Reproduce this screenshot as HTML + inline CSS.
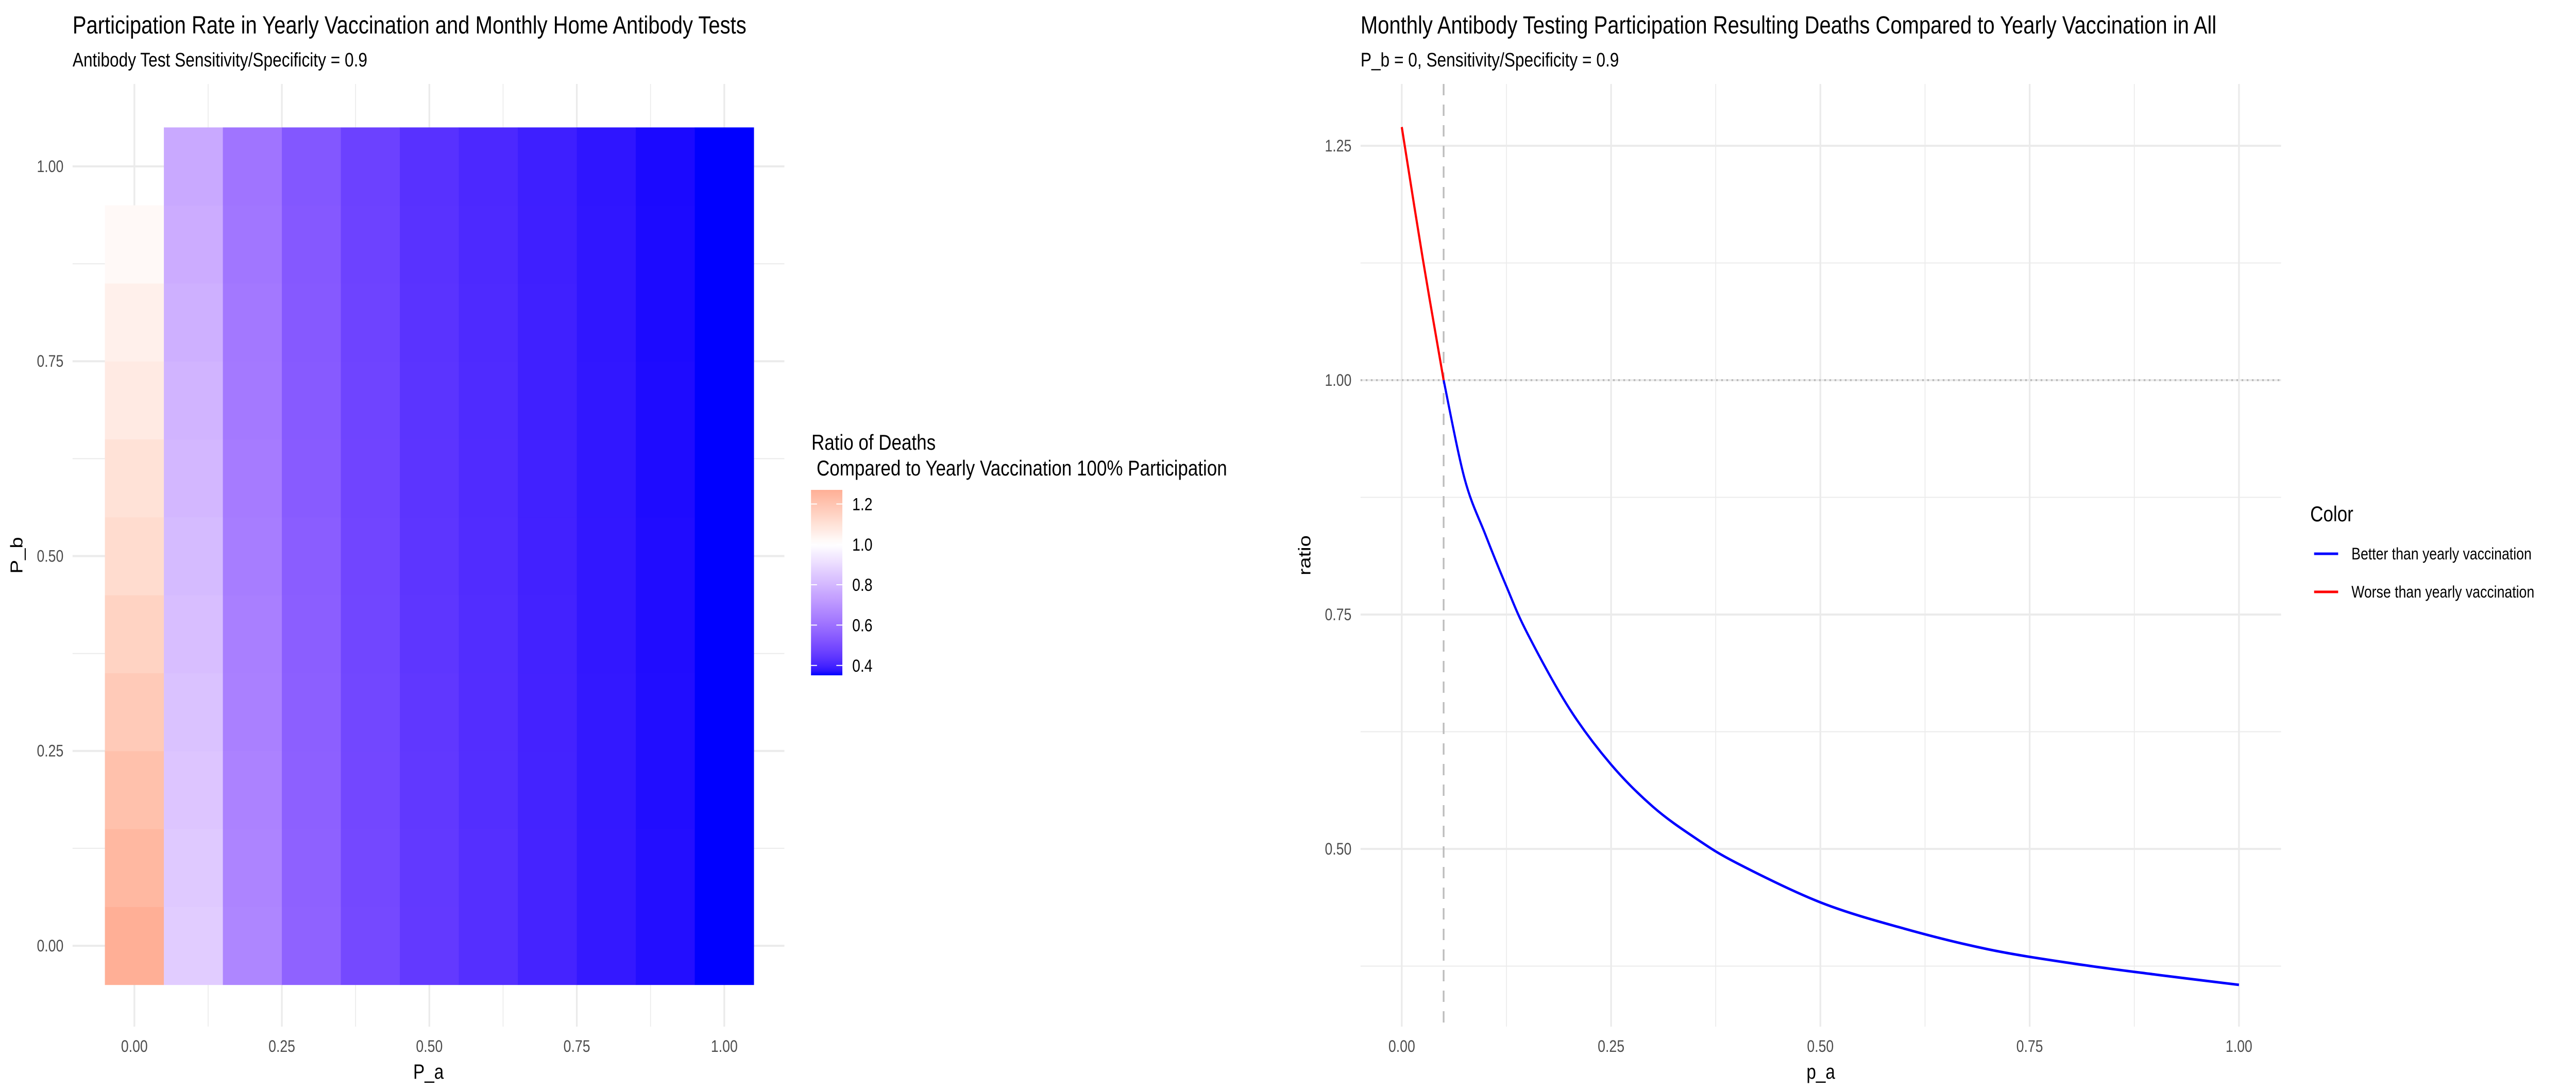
<!DOCTYPE html>
<html><head><meta charset="utf-8"><meta name="viewport" content="width=6000, initial-scale=1">
<style>
html,body{margin:0;padding:0;background:#fff;width:100%;height:100%;overflow:hidden}
svg{display:block;width:100vw;height:100vh;font-family:"Liberation Sans",Arial,sans-serif}
</style></head><body>
<svg id="chart" viewBox="0 0 6000 2116" preserveAspectRatio="none" xmlns="http://www.w3.org/2000/svg">
<rect width="6000" height="2116" fill="#fff"/>
<g id="left"></g>
<g id="right"></g>
</svg>
<script>
// ---- Heatmap data (rows = P_b levels, cols = P_a levels) ----
const paLevels = [0,0.1,0.2,0.3,0.4,0.5,0.6,0.7,0.8,0.9,1.0];
const pbLevels = [0,0.1,0.2,0.3,0.4,0.5,0.6,0.7,0.8,0.9,1.0];
const rowPb00 = [1.27,0.86,0.66,0.56,0.49,0.45,0.425,0.40,0.38,0.365,0.351];
const rowPb01 = [1.24,0.85,0.655,0.557,0.488,0.448,0.424,0.40,0.38,0.365,0.351];
const rowPb02 = [1.21,0.84,0.65,0.554,0.486,0.446,0.422,0.399,0.379,0.364,0.351];
const rowPb03 = [1.18,0.83,0.645,0.55,0.484,0.444,0.421,0.398,0.379,0.364,0.351];
const rowPb04 = [1.15,0.82,0.64,0.547,0.482,0.442,0.42,0.397,0.378,0.363,0.351];
const rowPb05 = [1.12,0.81,0.635,0.544,0.48,0.44,0.418,0.396,0.378,0.363,0.351];
const rowPb06 = [1.10,0.80,0.63,0.54,0.478,0.438,0.417,0.395,0.377,0.362,0.351];
const rowPb07 = [1.07,0.79,0.625,0.537,0.476,0.436,0.415,0.394,0.377,0.362,0.351];
const rowPb08 = [1.05,0.78,0.62,0.534,0.474,0.434,0.414,0.393,0.376,0.361,0.351];
const rowPb09 = [1.02,0.77,0.615,0.53,0.472,0.432,0.412,0.392,0.376,0.361,0.351];
const rowPb10 = [null,0.76,0.61,0.527,0.47,0.43,0.41,0.391,0.375,0.36,0.351];
const heatRows = [rowPb00,rowPb01,rowPb02,rowPb03,rowPb04,rowPb05,rowPb06,rowPb07,rowPb08,rowPb09,rowPb10];
const heatTickLabels = ["0.00","0.25","0.50","0.75","1.00"];
const heatTickVals = [0,0.25,0.5,0.75,1];
const legendTickVals = [0.4,0.6,0.8,1.0,1.2];
const legendTickLabels = ["0.4","0.6","0.8","1.0","1.2"];
const fillMin = 0.351, fillMax = 1.27, fillMid = 1.0;

// ---- Line chart data ----
const lineX = [0,0.025,0.05,0.075,0.1,0.125,0.15,0.2,0.25,0.3,0.35,0.4,0.5,0.6,0.7,0.8,0.9,1.0];
const lineY = [1.27,1.13,1.0,0.895,0.835,0.78,0.73,0.65,0.59,0.545,0.512,0.485,0.443,0.415,0.393,0.378,0.366,0.355];
const lineXTicks = [0,0.25,0.5,0.75,1];
const lineXTickLabels = ["0.00","0.25","0.50","0.75","1.00"];
const lineYTicks = [0.5,0.75,1.0,1.25];
const lineYTickLabels = ["0.50","0.75","1.00","1.25"];
const vlineX = 0.05, hlineY = 1.0;

const NS="http://www.w3.org/2000/svg";
function mk(parent,tag,attrs,text){const e=document.createElementNS(NS,tag);for(const k in attrs)e.setAttribute(k,attrs[k]);if(text!==undefined)e.textContent=text;parent.appendChild(e);return e;}

// Lab colour interpolation (like scales::gradient2)
function s2l(c){c/=255;return c<=0.04045?c/12.92:Math.pow((c+0.055)/1.055,2.4);}
function l2s(c){c=c<=0.0031308?12.92*c:1.055*Math.pow(c,1/2.4)-0.055;return Math.max(0,Math.min(255,Math.round(c*255)));}
function toLab(r,g,b){r=s2l(r);g=s2l(g);b=s2l(b);let X=(0.4124*r+0.3576*g+0.1805*b)/0.95047,Y=0.2126*r+0.7152*g+0.0722*b,Z=(0.0193*r+0.1192*g+0.9505*b)/1.08883;const f=t=>t>0.008856?Math.cbrt(t):7.787*t+16/116;X=f(X);Y=f(Y);Z=f(Z);return[116*Y-16,500*(X-Y),200*(Y-Z)];}
function fromLab(L,a,b){let Y=(L+16)/116,X=a/500+Y,Z=Y-b/200;const fi=t=>t*t*t>0.008856?t*t*t:(t-16/116)/7.787;X=fi(X)*0.95047;Y=fi(Y);Z=fi(Z)*1.08883;const r=3.2406*X-1.5372*Y-0.4986*Z,g=-0.9689*X+1.8758*Y+0.0415*Z,bb=0.0557*X-0.2040*Y+1.0570*Z;return`rgb(${l2s(r)},${l2s(g)},${l2s(bb)})`;}
const labW=toLab(255,255,255),labB=toLab(0,0,255),labR=toLab(255,0,0);
function fillColor(v){const span=Math.max(fillMid-fillMin,fillMax-fillMid);let t=(v-fillMid)/span;const tgt=t<0?labB:labR;t=Math.min(1,Math.abs(t));return fromLab(labW[0]+(tgt[0]-labW[0])*t,labW[1]+(tgt[1]-labW[1])*t,labW[2]+(tgt[2]-labW[2])*t);}

// ---------- LEFT PANEL ----------
const L=document.getElementById('left');
const lx=v=>313+v*1374, ly=v=>1836-v*1513;
const lp={x0:169,x1:1827,y0:163,y1:1993};
mk(L,'text',{x:169,y:65,'font-size':48,fill:'#000'},"Participation Rate in Yearly Vaccination and Monthly Home Antibody Tests");
mk(L,'text',{x:169,y:129,'font-size':38,fill:'#000'},"Antibody Test Sensitivity/Specificity = 0.9");
const lg=mk(L,'g',{});


for(let i=0;i<heatTickVals.length-1;i++){const m=(heatTickVals[i]+heatTickVals[i+1])/2;
 mk(lg,'line',{x1:lx(m),x2:lx(m),y1:lp.y0,y2:lp.y1,stroke:'#ebebeb','stroke-width':2});
 mk(lg,'line',{x1:lp.x0,x2:lp.x1,y1:ly(m),y2:ly(m),stroke:'#ebebeb','stroke-width':2});}
heatTickVals.forEach(v=>{mk(lg,'line',{x1:lx(v),x2:lx(v),y1:lp.y0,y2:lp.y1,stroke:'#ebebeb','stroke-width':4});
 mk(lg,'line',{x1:lp.x0,x2:lp.x1,y1:ly(v),y2:ly(v),stroke:'#ebebeb','stroke-width':4});});
const tiles=mk(L,'g',{});


const tw=lx(0.1)-lx(0), th=ly(0)-ly(0.1);
heatRows.forEach((row,ri)=>{row.forEach((v,ci)=>{if(v===null)return;
 const r=mk(tiles,'rect',{x:lx(paLevels[ci])-tw/2,y:ly(pbLevels[ri])-th/2,width:tw+0.5,height:th+0.5,fill:fillColor(v)});
 
 });});
heatTickVals.forEach((v,i)=>{
 const t=mk(L,'text',{x:lx(v),y:2042,'font-size':32,fill:'#4d4d4d','text-anchor':'middle'},heatTickLabels[i]);
 
 const u=mk(L,'text',{x:148,y:ly(v)+11,'font-size':32,fill:'#4d4d4d','text-anchor':'end'},heatTickLabels[i]);
 });
mk(L,'text',{x:(lp.x0+lp.x1)/2,y:2094,'font-size':40,'text-anchor':'middle'},"P_a");
mk(L,'text',{x:0,y:0,'font-size':40,'text-anchor':'middle',transform:`translate(52,${(lp.y0+lp.y1)/2}) rotate(-90)`},"P_b");
// colour legend
const lgd=mk(L,'g',{});


mk(lgd,'text',{x:1890,y:873,'font-size':42},"Ratio of Deaths");
mk(lgd,'text',{x:1902,y:923,'font-size':42},"Compared to Yearly Vaccination 100% Participation");
const cbTop=951,cbBot=1311,cbX=1889,cbW=73;
const cy=v=>cbBot-(v-fillMin)/(fillMax-fillMin)*(cbBot-cbTop);
const grad=mk(lgd,'defs',{});const lgrad=mk(grad,'linearGradient',{id:'cb',x1:0,y1:1,x2:0,y2:0});
for(let i=0;i<=40;i++){const f=i/40;mk(lgrad,'stop',{offset:f,'stop-color':fillColor(fillMin+f*(fillMax-fillMin))});}
const cb=mk(lgd,'rect',{x:cbX,y:cbTop,width:cbW,height:cbBot-cbTop,fill:'url(#cb)'});

legendTickVals.forEach((v,i)=>{
 mk(lgd,'line',{x1:cbX,x2:cbX+14,y1:cy(v),y2:cy(v),stroke:'#fff','stroke-width':2});
 mk(lgd,'line',{x1:cbX+cbW-14,x2:cbX+cbW,y1:cy(v),y2:cy(v),stroke:'#fff','stroke-width':2});
 const t=mk(lgd,'text',{x:1985,y:cy(v)+12,'font-size':34},legendTickLabels[i]);
 });

// ---------- RIGHT PANEL ----------
const R=document.getElementById('right');
const rx=v=>3265+v*1950, ry=v=>738-(v-1)*1820;
const rp={x0:3169,x1:5313,y0:163,y1:1993};
mk(R,'text',{x:3169,y:65,'font-size':48},"Monthly Antibody Testing Participation Resulting Deaths Compared to Yearly Vaccination in All");
mk(R,'text',{x:3169,y:129,'font-size':38},"P_b = 0, Sensitivity/Specificity = 0.9");
const rg=mk(R,'g',{});


for(let i=0;i<lineXTicks.length-1;i++){const m=(lineXTicks[i]+lineXTicks[i+1])/2;mk(rg,'line',{x1:rx(m),x2:rx(m),y1:rp.y0,y2:rp.y1,stroke:'#ebebeb','stroke-width':2});}
[0.375,0.625,0.875,1.125].forEach(m=>mk(rg,'line',{x1:rp.x0,x2:rp.x1,y1:ry(m),y2:ry(m),stroke:'#ebebeb','stroke-width':2}));
lineXTicks.forEach(v=>mk(rg,'line',{x1:rx(v),x2:rx(v),y1:rp.y0,y2:rp.y1,stroke:'#ebebeb','stroke-width':4}));
lineYTicks.forEach(v=>mk(rg,'line',{x1:rp.x0,x2:rp.x1,y1:ry(v),y2:ry(v),stroke:'#ebebeb','stroke-width':4}));
const hl=mk(R,'line',{x1:rp.x0,x2:rp.x1,y1:ry(hlineY),y2:ry(hlineY),stroke:'#bdbdbd','stroke-width':4,'stroke-dasharray':'4 8'});

const vl=mk(R,'line',{x1:rx(vlineX),x2:rx(vlineX),y1:rp.y0,y2:rp.y1,stroke:'#bdbdbd','stroke-width':4,'stroke-dasharray':'22 18'});

function smoothPath(xs,ys){const P=xs.map((x,i)=>[rx(x),ry(ys[i])]);let d=`M${P[0][0]},${P[0][1]}`;
 for(let i=0;i<P.length-1;i++){const p0=P[Math.max(0,i-1)],p1=P[i],p2=P[i+1],p3=P[Math.min(P.length-1,i+2)];
 d+=` C${p1[0]+(p2[0]-p0[0])/6},${p1[1]+(p2[1]-p0[1])/6} ${p2[0]-(p3[0]-p1[0])/6},${p2[1]-(p3[1]-p1[1])/6} ${p2[0]},${p2[1]}`;}return d;}
const splitIdx=lineY.findIndex(v=>v<=1.0);
const worse=mk(R,'path',{d:smoothPath(lineX.slice(0,splitIdx+1),lineY.slice(0,splitIdx+1)),fill:'none',stroke:'#ff0000','stroke-width':5});


const better=mk(R,'path',{d:smoothPath(lineX.slice(splitIdx),lineY.slice(splitIdx)),fill:'none',stroke:'#0000ff','stroke-width':5});


lineXTicks.forEach((v,i)=>{const t=mk(R,'text',{x:rx(v),y:2042,'font-size':32,fill:'#4d4d4d','text-anchor':'middle'},lineXTickLabels[i]);
 });
lineYTicks.forEach((v,i)=>{const t=mk(R,'text',{x:3148,y:ry(v)+11,'font-size':32,fill:'#4d4d4d','text-anchor':'end'},lineYTickLabels[i]);
 });
mk(R,'text',{x:(rp.x0+rp.x1)/2,y:2094,'font-size':40,'text-anchor':'middle'},"p_a");
mk(R,'text',{x:0,y:0,'font-size':40,'text-anchor':'middle',transform:`translate(3052,${(rp.y0+rp.y1)/2}) rotate(-90)`},"ratio");
const cl=mk(R,'g',{});


mk(cl,'text',{x:5381,y:1012,'font-size':42},"Color");
const e1=mk(cl,'g',{});


mk(e1,'line',{x1:5390,x2:5446,y1:1075,y2:1075,stroke:'#0000ff','stroke-width':5});
mk(e1,'text',{x:5477,y:1086,'font-size':32},"Better than yearly vaccination");
const e2=mk(cl,'g',{});


mk(e2,'line',{x1:5390,x2:5446,y1:1149,y2:1149,stroke:'#ff0000','stroke-width':5});
mk(e2,'text',{x:5477,y:1160,'font-size':32},"Worse than yearly vaccination");
</script>
</body></html>
